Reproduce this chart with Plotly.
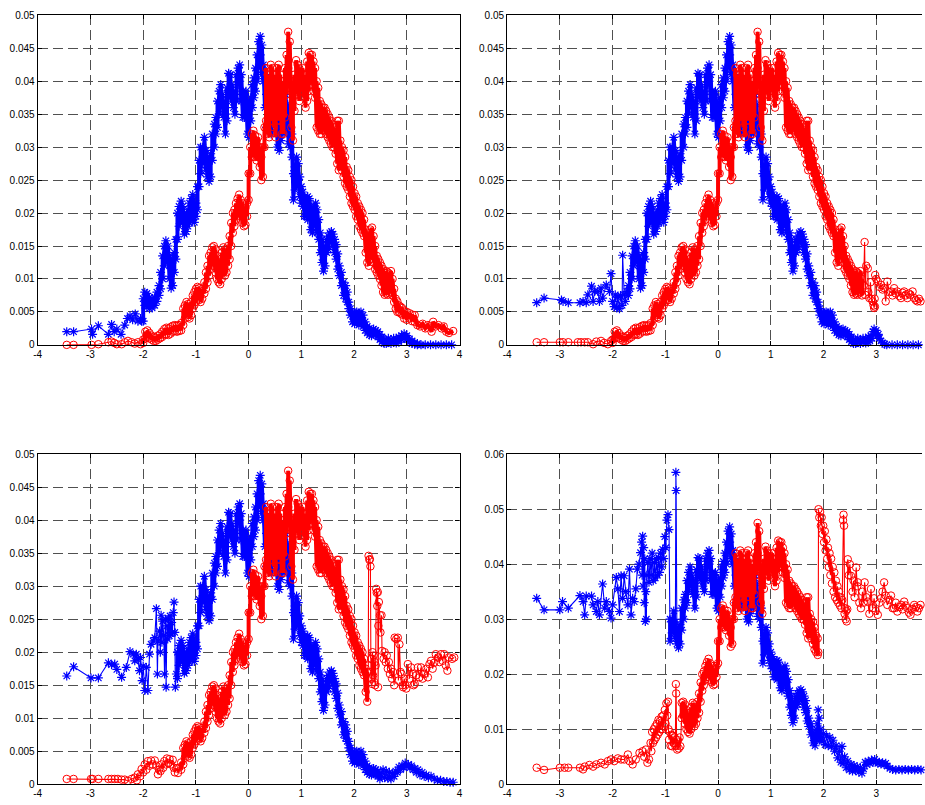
import plotly.graph_objects as go

# ---------------- tick labels ----------------
X_TICKS = [-4, -3, -2, -1, 0, 1, 2, 3, 4]
X_TICK_TEXT = ["-4", "-3", "-2", "-1", "0", "1", "2", "3", "4"]
Y_TICKS_A = [0, 0.005, 0.01, 0.015, 0.02, 0.025, 0.03, 0.035, 0.04, 0.045, 0.05]
Y_TICK_TEXT_A = ["0", "0.005", "0.01", "0.015", "0.02", "0.025", "0.03", "0.035", "0.04", "0.045", "0.05"]
Y_TICKS_B = [0, 0.01, 0.02, 0.03, 0.04, 0.05, 0.06]
Y_TICK_TEXT_B = ["0", "0.01", "0.02", "0.03", "0.04", "0.05", "0.06"]

# ---------------- shared blue curve (band: low / high at each x) ----------------
BLUE_X = [
    -2.00, -1.97, -1.93, -1.88, -1.83, -1.78, -1.74, -1.70, -1.67, -1.63,
    -1.60, -1.57, -1.53, -1.50, -1.47, -1.44, -1.41, -1.38, -1.35, -1.32,
    -1.28, -1.25, -1.22, -1.18, -1.15, -1.12, -1.09, -1.06, -1.03, -1.00,
    -0.97, -0.94, -0.91, -0.87, -0.84, -0.81, -0.78, -0.75, -0.72, -0.69,
    -0.65, -0.62, -0.59, -0.56, -0.53, -0.50, -0.47, -0.44, -0.41, -0.38,
    -0.35, -0.32, -0.29, -0.26, -0.23, -0.20, -0.17, -0.14, -0.11, -0.08,
    -0.05, -0.02, 0.01, 0.04, 0.07, 0.10, 0.13, 0.16, 0.19, 0.22,
    0.25, 0.28, 0.31, 0.34, 0.37, 0.40, 0.43, 0.46, 0.49, 0.52,
    0.55, 0.58, 0.61, 0.64, 0.67, 0.70, 0.73, 0.76, 0.79, 0.82,
    0.85, 0.88, 0.91, 0.94, 0.97, 1.00, 1.03, 1.06, 1.09, 1.12,
    1.15, 1.18, 1.21, 1.24, 1.27, 1.30, 1.33, 1.36, 1.39, 1.42,
    1.45, 1.48, 1.51, 1.54, 1.57, 1.60, 1.63, 1.66, 1.69, 1.72,
    1.76, 1.80, 1.84, 1.87, 1.90, 1.93, 1.97, 2.01, 2.05, 2.09,
    2.13, 2.17, 2.21, 2.25, 2.29, 2.33, 2.37, 2.41, 2.45, 2.49,
    2.53, 2.57, 2.61, 2.65, 2.70, 2.75, 2.80, 2.85, 2.90, 2.95,
    3.00, 3.05, 3.10, 3.15, 3.20, 3.27, 3.35, 3.45, 3.55, 3.65,
    3.75, 3.85]
BLUE_LO = [
    .0036, .0060, .0058, .0055, .0056, .0060, .0066, .0075, .0085, .0100,
    .0120, .0130, .0125, .0100, .0086, .0090, .0110, .0130, .0160, .0180,
    .0190, .0185, .0168, .0172, .0180, .0185, .0195, .0190, .0186, .0195,
    .0205, .0240, .0260, .0275, .0280, .0265, .0255, .0248, .0255, .0280,
    .0300, .0320, .0330, .0350, .0365, .0360, .0345, .0320, .0340, .0375,
    .0385, .0370, .0360, .0350, .0370, .0395, .0400, .0370, .0345, .0345,
    .0350, .0320, .0315, .0340, .0360, .0375, .0385, .0400, .0420, .0440,
    .0410, .0400, .0360, .0330, .0340, .0350, .0320, .0335, .0345, .0330,
    .0300, .0295, .0310, .0330, .0320, .0340, .0330, .0305, .0300, .0285,
    .0220, .0235, .0250, .0240, .0225, .0215, .0210, .0195, .0195, .0190,
    .0195, .0175, .0170, .0180, .0185, .0170, .0160, .0140, .0125, .0112,
    .0120, .0140, .0145, .0155, .0160, .0150, .0140, .0130, .0115, .0105,
    .0090, .0075, .0070, .0065, .0055, .0045, .0035, .0032, .0035, .0030,
    .0035, .0028, .0022, .0018, .0015, .0014, .0016, .0015, .0012, .0008,
    .0005, .0002, .0002, .0004, .0002, .0004, .0003, .0004, .0008, .0010,
    .0008, .0004, .0002, .0001, 0, 0, 0, 0, 0, 0,
    0, 0]
BLUE_HI = [
    .0070, .0080, .0078, .0072, .0070, .0072, .0080, .0090, .0110, .0135,
    .0150, .0158, .0150, .0135, .0120, .0130, .0140, .0160, .0200, .0210,
    .0218, .0210, .0200, .0195, .0205, .0215, .0222, .0228, .0210, .0215,
    .0240, .0280, .0300, .0300, .0315, .0295, .0285, .0280, .0290, .0320,
    .0335, .0345, .0370, .0385, .0395, .0380, .0370, .0350, .0390, .0412,
    .0410, .0395, .0385, .0380, .0410, .0420, .0425, .0410, .0385, .0380,
    .0385, .0370, .0355, .0375, .0395, .0405, .0420, .0440, .0460, .0468,
    .0455, .0425, .0410, .0380, .0395, .0380, .0375, .0385, .0390, .0385,
    .0350, .0340, .0370, .0385, .0370, .0380, .0365, .0345, .0350, .0320,
    .0260, .0270, .0285, .0275, .0255, .0240, .0232, .0225, .0218, .0225,
    .0222, .0210, .0200, .0210, .0215, .0205, .0190, .0170, .0160, .0140,
    .0150, .0160, .0165, .0170, .0172, .0168, .0160, .0152, .0138, .0120,
    .0110, .0095, .0090, .0080, .0065, .0055, .0050, .0048, .0050, .0048,
    .0050, .0045, .0035, .0028, .0025, .0022, .0024, .0022, .0020, .0016,
    .0012, .0008, .0007, .0010, .0008, .0010, .0009, .0012, .0014, .0017,
    .0014, .0009, .0006, .0003, .0002, 0, 0, 0, 0, 0,
    0, 0]

# ---------------- shared red curve ----------------
RED_X = [
    -2.00, -1.96, -1.92, -1.88, -1.84, -1.80, -1.76, -1.72, -1.68, -1.64,
    -1.60, -1.56, -1.52, -1.48, -1.44, -1.40, -1.36, -1.32, -1.28, -1.24,
    -1.21, -1.18, -1.15, -1.12, -1.09, -1.06, -1.03, -1.00, -0.97, -0.94,
    -0.91, -0.88, -0.84, -0.81, -0.78, -0.75, -0.72, -0.69, -0.66, -0.63,
    -0.60, -0.57, -0.54, -0.51, -0.48, -0.45, -0.42, -0.39, -0.36, -0.33,
    -0.30, -0.27, -0.24, -0.21, -0.18, -0.15, -0.12, -0.09, -0.06, -0.03,
    0.00, 0.03, 0.06, 0.09, 0.12, 0.15, 0.18, 0.21, 0.24, 0.27,
    0.30, 0.33, 0.36, 0.39, 0.42, 0.45, 0.48, 0.51, 0.54, 0.57,
    0.60, 0.63, 0.66, 0.69, 0.72, 0.75, 0.78, 0.81, 0.84, 0.87,
    0.90, 0.93, 0.96, 0.99, 1.02, 1.05, 1.08, 1.11, 1.14, 1.17,
    1.20, 1.23, 1.26, 1.29, 1.32, 1.35, 1.38, 1.41, 1.44, 1.47,
    1.50, 1.53, 1.56, 1.59, 1.62, 1.65, 1.68, 1.71, 1.74, 1.77,
    1.80, 1.83, 1.86, 1.89, 1.92, 1.95, 1.98, 2.01, 2.04, 2.07,
    2.10, 2.13, 2.16, 2.19, 2.22, 2.25, 2.28, 2.31, 2.34, 2.37,
    2.40, 2.43, 2.46, 2.49, 2.52, 2.55, 2.58, 2.61, 2.64, 2.67,
    2.70, 2.73, 2.76, 2.79, 2.82, 2.85, 2.88, 2.91, 2.95, 3.00,
    3.05, 3.10, 3.15, 3.20, 3.25, 3.30, 3.35, 3.40, 3.47, 3.50,
    3.55, 3.60, 3.66, 3.70, 3.75, 3.80, 3.88]
RED_LO = [
    .0003, .0010, .0012, .0010, .0008, .0006, .0006, .0008, .0010, .0012,
    .0015, .0016, .0015, .0017, .0020, .0021, .0020, .0021, .0022, .0030,
    .0040, .0045, .0042, .0040, .0045, .0055, .0060, .0065, .0070, .0068,
    .0065, .0070, .0078, .0085, .0095, .0105, .0115, .0120, .0125, .0110,
    .0100, .0095, .0092, .0100, .0110, .0105, .0110, .0120, .0130, .0150,
    .0170, .0180, .0190, .0195, .0200, .0190, .0185, .0180, .0182, .0195,
    .0220, .0260, .0285, .0290, .0285, .0280, .0285, .0270, .0250, .0255,
    .0300, .0340, .0320, .0315, .0340, .0360, .0330, .0315, .0340, .0360,
    .0340, .0320, .0320, .0345, .0380, .0420, .0395, .0330, .0310, .0355,
    .0390, .0380, .0370, .0385, .0390, .0375, .0360, .0370, .0385, .0395,
    .0400, .0385, .0375, .0330, .0325, .0320, .0320, .0325, .0330, .0320,
    .0315, .0310, .0305, .0300, .0300, .0290, .0275, .0265, .0270, .0265,
    .0255, .0245, .0240, .0235, .0225, .0215, .0210, .0205, .0195, .0190,
    .0180, .0175, .0170, .0165, .0140, .0125, .0120, .0130, .0140, .0125,
    .0115, .0110, .0105, .0100, .0090, .0080, .0076, .0078, .0076, .0078,
    .0080, .0075, .0065, .0055, .0050, .0050, .0048, .0046, .0040, .0038,
    .0040, .0036, .0035, .0030, .0028, .0032, .0025, .0030, .0020, .0035,
    .0028, .0030, .0025, .0028, .0020, .0018, .0021]
RED_HI = [
    .0008, .0020, .0022, .0018, .0014, .0012, .0011, .0014, .0016, .0020,
    .0024, .0026, .0025, .0027, .0029, .0030, .0029, .0030, .0033, .0055,
    .0060, .0065, .0062, .0058, .0065, .0075, .0080, .0085, .0088, .0086,
    .0082, .0085, .0095, .0110, .0120, .0135, .0140, .0148, .0150, .0145,
    .0135, .0125, .0130, .0140, .0148, .0145, .0140, .0150, .0165, .0185,
    .0200, .0205, .0215, .0222, .0228, .0220, .0215, .0210, .0208, .0215,
    .0260, .0300, .0320, .0325, .0318, .0310, .0315, .0300, .0285, .0300,
    .0330, .0420, .0410, .0400, .0425, .0420, .0410, .0400, .0420, .0425,
    .0410, .0390, .0400, .0420, .0440, .0475, .0460, .0400, .0380, .0410,
    .0432, .0425, .0420, .0415, .0420, .0410, .0400, .0430, .0443, .0440,
    .0440, .0430, .0420, .0400, .0390, .0370, .0365, .0360, .0360, .0355,
    .0350, .0345, .0340, .0335, .0330, .0320, .0340, .0340, .0310, .0300,
    .0295, .0285, .0270, .0265, .0255, .0250, .0240, .0230, .0225, .0215,
    .0210, .0205, .0200, .0190, .0175, .0170, .0160, .0175, .0178, .0165,
    .0150, .0135, .0130, .0125, .0120, .0115, .0110, .0112, .0110, .0108,
    .0112, .0100, .0085, .0070, .0066, .0060, .0058, .0056, .0052, .0050,
    .0048, .0046, .0045, .0030, .0028, .0032, .0025, .0030, .0020, .0035,
    .0028, .0030, .0025, .0028, .0020, .0018, .0021]

# ---------------- panel-specific tails ----------------
# top-left
TL_BLUE_LX = [-3.45, -3.32, -2.98, -2.96, -2.85, -2.66, -2.60, -2.55, -2.50, -2.42,
              -2.35, -2.30, -2.25, -2.20, -2.15, -2.10, -2.05, -2.03]
TL_BLUE_LY = [.0020, .0020, .0024, .0016, .0029, .0016, .0031, .0020, .0024, .0016,
              .0030, .0040, .0044, .0038, .0047, .0036, .0040, .0036]
TL_RED_LX = [-3.45, -3.32, -2.98, -2.85, -2.66, -2.60, -2.55, -2.50, -2.41, -2.35,
             -2.29, -2.22, -2.16, -2.10, -2.05]
TL_RED_LY = [0, 0, 0, .0001, .0004, .0005, .0003, .0001, .0001, .0004,
             .0006, .0004, .0002, .0004, .0001]

# top-right
TR_BLUE_LX = [-3.44, -3.30, -2.97, -2.94, -2.84, -2.62, -2.56, -2.50, -2.47, -2.40,
              -2.37, -2.34, -2.28, -2.25, -2.22, -2.19, -2.12, -2.06, -2.03, -2.00,
              -1.97, -1.95, -1.92, -1.90, -1.87, -1.85, -1.82, -1.81, -1.78, -1.76,
              -1.73]
TR_BLUE_LY = [.0064, .0071, .0068, .0066, .0064, .0064, .0066, .0064, .0076, .0089,
              .0066, .0081, .0081, .0066, .0086, .0071, .0091, .0081, .0108, .0066,
              .0058, .0076, .0056, .0072, .0055, .0075, .0060, .0136, .0076, .0066,
              .0081]
TR_BLUE_RX = [2.88, 2.90, 2.92, 2.94, 2.96, 2.98, 3.00, 3.02, 3.04, 3.06,
              3.09, 3.12, 3.16, 3.20, 3.30, 3.40, 3.50, 3.60, 3.70, 3.80, 3.88]
TR_BLUE_RY = [.0006, .0014, .0010, .0020, .0024, .0016, .0022, .0014, .0016, .0010,
              .0006, .0003, .0001, 0, 0, 0, 0, 0, 0, 0, 0]
TR_RED_LX = [-3.44, -3.30, -3.00, -2.94, -2.84, -2.66, -2.60, -2.53, -2.47, -2.37,
             -2.31, -2.22, -2.16, -2.09, -2.03]
TR_RED_LY = [.0004, .0004, .0004, .0004, .0004, .0004, .0004, .0004, .0004, .0001,
             .0005, .0006, .0003, .0001, .0006]
TR_RED_RX = [2.76, 2.78, 2.79, 2.81, 2.84, 2.85, 2.87, 2.89, 2.91, 2.93,
             2.95, 2.96, 2.97, 2.975, 2.98, 3.00, 3.03, 3.06, 3.09, 3.12,
             3.15, 3.18, 3.21, 3.25, 3.28, 3.31, 3.34, 3.37, 3.40, 3.44,
             3.47, 3.50, 3.53, 3.56, 3.59, 3.62, 3.65, 3.69, 3.72, 3.75,
             3.78, 3.81, 3.84, 3.88]
TR_RED_RY = [.0090, .0156, .0076, .0120, .0116, .0080, .0071, .0095, .0070, .0066,
             .0060, .0056, .0070, .0058, .0106, .0100, .0096, .0088, .0091, .0084,
             .0086, .0066, .0096, .0080, .0081, .0075, .0086, .0078, .0081, .0074,
             .0071, .0079, .0081, .0075, .0071, .0078, .0076, .0081, .0071, .0068,
             .0066, .0070, .0066, .0068]

# bottom-left
BL_BLUE_LX = [-3.45, -3.32, -2.99, -2.85, -2.66, -2.60, -2.54, -2.50, -2.41, -2.32,
              -2.25, -2.19, -2.16, -2.13, -2.10, -2.07, -2.05, -2.02, -2.00, -1.97,
              -1.94, -1.91, -1.88, -1.85, -1.81, -1.78, -1.75, -1.73, -1.72, -1.69,
              -1.675, -1.66, -1.645, -1.63, -1.61, -1.595, -1.58, -1.565, -1.55, -1.535,
              -1.52, -1.505, -1.49, -1.475, -1.46, -1.445, -1.43, -1.415, -1.40, -1.39,
              -1.37]
BL_BLUE_LY = [.0164, .0178, .0161, .0161, .0184, .0181, .0182, .0174, .0162, .0177,
              .0201, .0197, .0187, .0197, .0189, .0172, .0192, .0157, .0179, .0142,
              .0177, .0142, .0197, .0212, .0217, .0222, .0266, .0167, .0217, .0232,
              .0200, .0256, .0215, .0247, .0225, .0167, .0250, .0147, .0240, .0220,
              .0250, .0225, .0255, .0228, .0245, .0230, .0260, .0276, .0230, .0147,
              .0167]
BL_BLUE_RX = [2.52, 2.55, 2.58, 2.61, 2.64, 2.67, 2.70, 2.73, 2.76, 2.79,
              2.82, 2.85, 2.88, 2.91, 2.94, 2.97, 3.00, 3.03, 3.06, 3.09,
              3.12, 3.15, 3.18, 3.21, 3.25, 3.29, 3.33, 3.37, 3.41, 3.46,
              3.52, 3.58, 3.64, 3.70, 3.76, 3.82, 3.88]
BL_BLUE_RY = [.0012, .0022, .0010, .0020, .0009, .0018, .0008, .0016, .0012, .0020,
              .0018, .0026, .0022, .0028, .0025, .0032, .0027, .0030, .0025, .0028,
              .0022, .0024, .0018, .0022, .0014, .0018, .0012, .0014, .0010, .0012,
              .0008, .0006, .0006, .0004, .0004, .0003, .0003]
BL_RED_LX = [-3.45, -3.32, -2.99, -2.96, -2.85, -2.66, -2.60, -2.54, -2.48, -2.41,
             -2.35, -2.29, -2.22, -2.16, -2.12, -2.10, -2.06, -2.03, -2.00, -1.97,
             -1.94, -1.91, -1.88, -1.85, -1.82, -1.78, -1.75, -1.72, -1.70, -1.67,
             -1.65, -1.62, -1.60, -1.57, -1.55, -1.52, -1.50, -1.47, -1.44, -1.42,
             -1.40, -1.37, -1.34, -1.32]
BL_RED_LY = [.0008, .0008, .0008, .0008, .0008, .0008, .0008, .0008, .0008, .0007,
             .0007, .0005, .0008, .0010, .0006, .0015, .0012, .0023, .0018, .0030,
             .0022, .0035, .0028, .0036, .0030, .0036, .0028, .0015, .0022, .0020,
             .0030, .0025, .0035, .0030, .0039, .0032, .0038, .0030, .0037, .0025,
             .0018, .0024, .0017, .0025]
BL_RED_RX = [2.27, 2.275, 2.29, 2.30, 2.31, 2.32, 2.33, 2.34, 2.35, 2.36,
             2.37, 2.38, 2.39, 2.40, 2.41, 2.42, 2.43, 2.44, 2.45, 2.455,
             2.46, 2.47, 2.49, 2.50, 2.52, 2.53, 2.56, 2.58, 2.60, 2.62,
             2.64, 2.66, 2.68, 2.70, 2.72, 2.74, 2.76, 2.77, 2.80, 2.83,
             2.84, 2.86, 2.88, 2.90, 2.92, 2.93, 2.95, 2.97, 2.99, 3.02,
             3.05, 3.08, 3.11, 3.13, 3.15, 3.18, 3.21, 3.24, 3.27, 3.30,
             3.33, 3.37, 3.40, 3.43, 3.46, 3.49, 3.52, 3.55, 3.59, 3.62,
             3.65, 3.68, 3.71, 3.74, 3.77, 3.80, 3.86, 3.90]
BL_RED_RY = [.0180, .0346, .0340, .0341, .0330, .0160, .0190, .0152, .0200, .0165,
             .0195, .0155, .0185, .0150, .0180, .0296, .0290, .0270, .0291, .0147,
             .0240, .0276, .0256, .0230, .0256, .0202, .0190, .0200, .0185, .0195,
             .0175, .0185, .0167, .0175, .0160, .0170, .0150, .0222, .0220, .0222,
             .0157, .0212, .0170, .0167, .0150, .0147, .0160, .0150, .0145, .0182,
             .0160, .0177, .0167, .0150, .0152, .0165, .0177, .0162, .0177, .0160,
             .0167, .0175, .0162, .0182, .0187, .0175, .0184, .0197, .0192, .0185,
             .0197, .0187, .0197, .0180, .0172, .0192, .0190, .0192]

# bottom-right
BR_BLUE_LX = [-3.44, -3.30, -3.00, -2.95, -2.84, -2.62, -2.56, -2.53, -2.50, -2.40,
              -2.37, -2.31, -2.28, -2.25, -2.19, -2.15, -2.12, -2.06, -2.03, -2.00,
              -1.93, -1.90, -1.87, -1.84, -1.81, -1.78, -1.75, -1.71, -1.68, -1.65,
              -1.62, -1.59, -1.56, -1.53, -1.50, -1.47, -1.45, -1.44, -1.43, -1.42,
              -1.41, -1.40, -1.39, -1.38, -1.37, -1.36, -1.35, -1.33, -1.31, -1.29,
              -1.27, -1.25, -1.23, -1.21, -1.19, -1.17, -1.15, -1.13, -1.11, -1.09,
              -1.07, -1.05, -1.03, -1.01, -0.99, -0.97, -0.95, -0.93]
BR_BLUE_LY = [.0338, .0317, .0317, .0332, .0320, .0343, .0332, .0308, .0342, .0342,
              .0326, .0314, .0332, .0308, .0364, .0320, .0332, .0314, .0302, .0326,
              .0376, .0355, .0314, .0379, .0338, .0379, .0350, .0326, .0391, .0308,
              .0338, .0332, .0355, .0391, .0400, .0421, .0440, .0380, .0451, .0360,
              .0430, .0330, .0410, .0296, .0350, .0300, .0380, .0403, .0367, .0410,
              .0380, .0420, .0370, .0403, .0375, .0409, .0380, .0412, .0385, .0420,
              .0395, .0427, .0410, .0450, .0430, .0480, .0490, .0463]
BR_BLUE_SX = [-0.80, -0.795]
BR_BLUE_SY = [.0567, .0534]
BR_BLUE_RX = [1.86, 1.87, 1.88, 1.89, 1.90, 1.91, 1.92, 1.93, 1.95, 1.97,
              2.00, 2.03, 2.06, 2.09, 2.12, 2.15, 2.18, 2.21, 2.24, 2.27,
              2.30, 2.33, 2.35, 2.37, 2.40, 2.43, 2.46, 2.49, 2.52, 2.55,
              2.58, 2.61, 2.64, 2.67, 2.70, 2.73, 2.76, 2.79, 2.82, 2.85,
              2.88, 2.91, 2.94, 2.97, 3.00, 3.03, 3.06, 3.09, 3.12, 3.15,
              3.18, 3.21, 3.26, 3.31, 3.37, 3.43, 3.49, 3.55, 3.61, 3.67,
              3.73, 3.79, 3.85]
BR_BLUE_RY = [.0100, .0080, .0110, .0085, .0135, .0090, .0120, .0082, .0100, .0078,
              .0092, .0072, .0088, .0070, .0085, .0069, .0080, .0060, .0070, .0048,
              .0060, .0040, .0069, .0038, .0050, .0030, .0042, .0026, .0036, .0024,
              .0034, .0025, .0032, .0022, .0030, .0020, .0028, .0040, .0036, .0042,
              .0038, .0044, .0040, .0045, .0041, .0038, .0040, .0037, .0039, .0036,
              .0038, .0033, .0029, .0027, .0026, .0027, .0026, .0027, .0026, .0027,
              .0026, .0027, .0026]
BR_RED_LX = [-3.44, -3.30, -3.00, -2.91, -2.84, -2.62, -2.56, -2.53, -2.44, -2.37,
             -2.31, -2.22, -2.15, -2.09, -2.03, -1.97, -1.90, -1.84, -1.78, -1.71,
             -1.68, -1.62, -1.56, -1.49, -1.43, -1.40, -1.37, -1.34, -1.31, -1.28,
             -1.265, -1.25, -1.235, -1.22, -1.205, -1.19, -1.175, -1.16, -1.145, -1.13,
             -1.115, -1.10, -1.085, -1.07, -1.055, -1.04, -1.025, -1.01, -0.995, -0.98,
             -0.965, -0.95, -0.94, -0.93, -0.915, -0.90, -0.885, -0.87, -0.855, -0.84,
             -0.825, -0.81, -0.80, -0.795, -0.785, -0.775, -0.76, -0.745, -0.73, -0.715]
BR_RED_LY = [.0030, .0026, .0030, .0030, .0030, .0030, .0027, .0032, .0035, .0032,
             .0036, .0039, .0036, .0042, .0045, .0042, .0047, .0045, .0045, .0054,
             .0042, .0036, .0045, .0057, .0060, .0050, .0063, .0039, .0045, .0075,
             .0060, .0095, .0075, .0100, .0080, .0105, .0085, .0110, .0090, .0117,
             .0095, .0115, .0100, .0123, .0100, .0125, .0105, .0135, .0110, .0147,
             .0125, .0150, .0100, .0081, .0095, .0070, .0090, .0069, .0088, .0075,
             .0085, .0070, .0182, .0165, .0070, .0063, .0080, .0065, .0085, .0069]
BR_RED_RX = [1.900, 1.905, 1.92, 1.935, 1.95, 1.965, 1.98, 1.995, 2.01, 2.025,
             2.04, 2.055, 2.07, 2.085, 2.10, 2.115, 2.13, 2.145, 2.16, 2.175,
             2.19, 2.205, 2.22, 2.235, 2.25, 2.265, 2.28, 2.295, 2.31, 2.325,
             2.34, 2.355, 2.37, 2.38, 2.39, 2.40, 2.41, 2.42, 2.43, 2.44,
             2.45, 2.46, 2.48, 2.50, 2.52, 2.55, 2.57, 2.59, 2.62, 2.64,
             2.65, 2.68, 2.71, 2.74, 2.76, 2.78, 2.81, 2.84, 2.87, 2.90,
             2.93, 2.96, 2.99, 3.03, 3.06, 3.09, 3.12, 3.15, 3.18, 3.21,
             3.25, 3.28, 3.31, 3.34, 3.37, 3.40, 3.44, 3.47, 3.50, 3.53,
             3.56, 3.59, 3.62, 3.65, 3.68, 3.72, 3.75, 3.78, 3.81, 3.84,
             3.88]
BR_RED_RY = [.0240, .0500, .0485, .0495, .0470, .0485, .0455, .0470, .0440, .0460,
             .0425, .0445, .0410, .0430, .0395, .0420, .0380, .0410, .0365, .0395,
             .0350, .0385, .0340, .0370, .0335, .0360, .0330, .0350, .0325, .0340,
             .0320, .0335, .0480, .0490, .0470, .0310, .0320, .0300, .0315, .0296,
             .0318, .0409, .0380, .0400, .0379, .0350, .0370, .0340, .0394, .0360,
             .0367, .0330, .0320, .0350, .0330, .0367, .0340, .0332, .0310, .0355,
             .0320, .0338, .0315, .0308, .0330, .0338, .0350, .0367, .0343, .0326,
             .0335, .0343, .0320, .0320, .0330, .0314, .0322, .0326, .0318, .0332,
             .0325, .0320, .0312, .0308, .0318, .0326, .0322, .0314, .0320, .0326,
             .0318]

# ---------------- helpers ----------------
def check(*pairs):
    for a, b in pairs:
        assert len(a) == len(b), (len(a), len(b))

check((BLUE_X, BLUE_LO), (BLUE_X, BLUE_HI), (RED_X, RED_LO), (RED_X, RED_HI),
      (TL_BLUE_LX, TL_BLUE_LY), (TL_RED_LX, TL_RED_LY),
      (TR_BLUE_LX, TR_BLUE_LY), (TR_BLUE_RX, TR_BLUE_RY), (TR_RED_LX, TR_RED_LY), (TR_RED_RX, TR_RED_RY),
      (BL_BLUE_LX, BL_BLUE_LY), (BL_BLUE_RX, BL_BLUE_RY), (BL_RED_LX, BL_RED_LY), (BL_RED_RX, BL_RED_RY),
      (BR_BLUE_LX, BR_BLUE_LY), (BR_BLUE_SX, BR_BLUE_SY), (BR_BLUE_RX, BR_BLUE_RY),
      (BR_RED_LX, BR_RED_LY), (BR_RED_RX, BR_RED_RY))


def band_points(xs, lo, hi, xmin, xmax):
    # each band sample is visited low -> high (saw-tooth), as the dense data does
    px, py = [], []
    for x, l, h in zip(xs, lo, hi):
        if x < xmin or x > xmax:
            continue
        if l == h:
            px.append(x); py.append(l)
        else:
            px += [x, x]; py += [l, h]
    return px, py


def series(core, xmin, xmax, *extra):
    bx, by = band_points(core[0], core[1], core[2], xmin, xmax)
    px, py = list(bx), list(by)
    for ex, ey in extra:
        px = px + list(ex)
        py = py + list(ey)
    order = sorted(range(len(px)), key=lambda i: px[i])
    return ([px[i] for i in order], [py[i] for i in order]), (bx, by)


BLUE = (BLUE_X, BLUE_LO, BLUE_HI)
RED = (RED_X, RED_LO, RED_HI)
INF = 99

panels = [
    (series(BLUE, -INF, INF, (TL_BLUE_LX, TL_BLUE_LY)),
     series(RED, -INF, INF, (TL_RED_LX, TL_RED_LY))),
    (series(BLUE, -1.71, 2.855, (TR_BLUE_LX, TR_BLUE_LY), (TR_BLUE_RX, TR_BLUE_RY)),
     series(RED, -2.01, 2.735, (TR_RED_LX, TR_RED_LY), (TR_RED_RX, TR_RED_RY))),
    (series(BLUE, -1.36, 2.495, (BL_BLUE_LX, BL_BLUE_LY), (BL_BLUE_RX, BL_BLUE_RY)),
     series(RED, -1.285, 2.255, (BL_RED_LX, BL_RED_LY), (BL_RED_RX, BL_RED_RY))),
    (series(BLUE, -0.915, 1.845, (BR_BLUE_LX, BR_BLUE_LY), (BR_BLUE_SX, BR_BLUE_SY), (BR_BLUE_RX, BR_BLUE_RY)),
     series(RED, -0.695, 1.895, (BR_RED_LX, BR_RED_LY), (BR_RED_RX, BR_RED_RY))),
]

# ---------------- figure ----------------
W, H = 925, 805
fig = go.Figure()

axis_ids = [("x", "y"), ("x2", "y2"), ("x3", "y3"), ("x4", "y4")]
STYLE = [("#0000ff", "asterisk-open", 7.5, 1.2), ("#ff0000", "circle-open", 7.5, 1.0)]
for (bl, rd), (xa, ya) in zip(panels, axis_ids):
    for (full, dense), (col, sym, size, mlw) in zip((bl, rd), STYLE):
        # dense part of the record: many overlapping samples -> solid band
        fig.add_trace(go.Scatter(
            x=dense[0], y=dense[1], mode="lines", xaxis=xa, yaxis=ya,
            line=dict(color=col, width=4.0),
            showlegend=False, hoverinfo="skip"))
        fig.add_trace(go.Scatter(
            x=full[0], y=full[1], mode="lines+markers", xaxis=xa, yaxis=ya,
            line=dict(color=col, width=1.1),
            marker=dict(symbol=sym, size=size, color=col, line=dict(color=col, width=mlw)),
            cliponaxis=False, showlegend=False, hoverinfo="skip"))

FONT = dict(family="Liberation Sans, Arial, Helvetica, sans-serif", size=10, color="black")
GRID = dict(showgrid=True, gridcolor="#505050", gridwidth=1.2, griddash="10px,5px",
            zeroline=False, showline=True, linecolor="black", linewidth=1.2,
            ticks="inside", ticklen=4, tickcolor="black", tickfont=FONT)

left_dom = [34 / W, 459 / W]
right_dom = [507 / W, 1.0]
right_xmax = -4 + (W - 507) / (425 / 8)
top_dom = [1 - 344 / H, 1 - 9.5 / H]
bot_dom = [1 - 790 / H, 1 - 455 / H]


def xax(dom, rng, anchor):
    return dict(domain=dom, range=rng, anchor=anchor, tickvals=X_TICKS, ticktext=X_TICK_TEXT,
                mirror="ticks", **GRID)


def yax(dom, tv, tt, rng, anchor, mirror):
    return dict(domain=dom, range=rng, anchor=anchor, tickvals=tv, ticktext=tt,
                mirror=mirror, **GRID)


fig.update_layout(
    width=W, height=H, margin=dict(l=0, r=0, t=0, b=0),
    paper_bgcolor="white", plot_bgcolor="white", showlegend=False,
    xaxis=xax(left_dom, [-4, 4], "y"),
    yaxis=yax(top_dom, Y_TICKS_A, Y_TICK_TEXT_A, [0, 0.05], "x", "ticks"),
    xaxis2=xax(right_dom, [-4, right_xmax], "y2"),
    yaxis2=yax(top_dom, Y_TICKS_A, Y_TICK_TEXT_A, [0, 0.05], "x2", False),
    xaxis3=xax(left_dom, [-4, 4], "y3"),
    yaxis3=yax(bot_dom, Y_TICKS_A, Y_TICK_TEXT_A, [0, 0.05], "x3", "ticks"),
    xaxis4=xax(right_dom, [-4, right_xmax], "y4"),
    yaxis4=yax(bot_dom, Y_TICKS_B, Y_TICK_TEXT_B, [0, 0.06], "x4", False),
)

fig.write_html("out.html")
